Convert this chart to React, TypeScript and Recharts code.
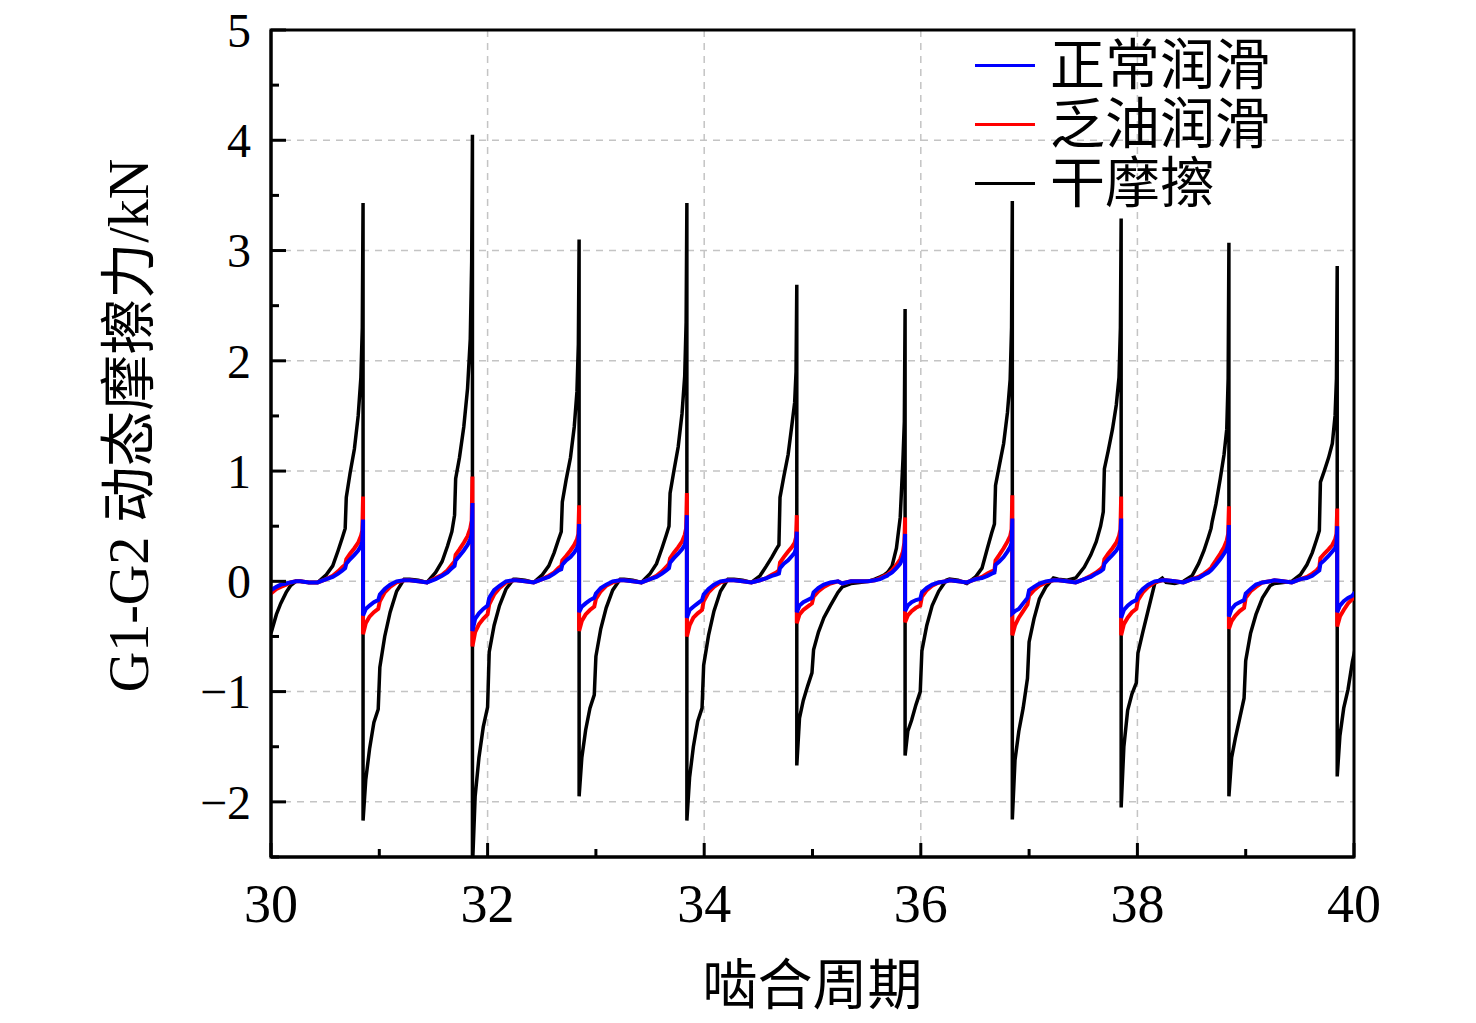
import React from "react";
import {
  LineChart,
  Line,
  XAxis,
  YAxis,
  CartesianGrid,
  Legend,
  ReferenceArea,
} from "recharts";

const SERIF = '"Liberation Serif", "Times New Roman", "Noto Sans CJK SC", serif';

const X_TICKS = [30, 31, 32, 33, 34, 35, 36, 37, 38, 39, 40];
const Y_TICKS = [-2.5, -2, -1.5, -1, -0.5, 0, 0.5, 1, 1.5, 2, 2.5, 3, 3.5, 4, 4.5, 5];
const X_GRID = [32, 34, 36, 38];
const Y_GRID = [-2, -1, 0, 1, 2, 3, 4];

// mesh impact positions (one per cycle)
const SPIKES = [30.85, 31.86, 32.845, 33.84, 34.855, 35.855, 36.845, 37.85, 38.845, 39.845];

// sample offsets around each impact; the two zeros are the peak and the drop
const PHASES = [
  -0.58, -0.5, -0.42, -0.34, -0.28, -0.23, -0.19, -0.165, -0.155, -0.12, -0.08, -0.045, -0.02, -0.007,
  0, 0,
  0.025, 0.06, 0.1, 0.14, 0.155, 0.2, 0.25, 0.31, 0.38,
];

// start of the window, before the first impact
const LEAD_X = [30, 30.05, 30.09, 30.14, 30.18, 30.23];
const LEAD_DRY = [-0.47, -0.3, -0.2, -0.1, -0.04, 0.0];
const LEAD_OIL = [-0.11, -0.07, -0.05, -0.03, -0.01, 0.0];
const LEAD_NORMAL = [-0.08, -0.05, -0.03, -0.02, -0.01, 0.0];

// 干摩擦
const DRY = [
  [0.0, -0.01, -0.01, 0.06, 0.14, 0.28, 0.4, 0.48, 0.76, 0.98, 1.2, 1.5, 1.85, 2.3, 3.43, -2.17, -1.8, -1.52, -1.28, -1.16, -0.78, -0.5, -0.28, -0.09, 0.02],
  [0.02, 0.01, -0.01, 0.08, 0.18, 0.32, 0.45, 0.6, 0.93, 1.12, 1.4, 1.75, 2.2, 2.9, 4.05, -2.6, -1.95, -1.6, -1.32, -1.14, -0.64, -0.4, -0.22, -0.07, 0.02],
  [0.02, 0.01, -0.01, 0.06, 0.14, 0.26, 0.38, 0.45, 0.72, 0.92, 1.12, 1.4, 1.72, 2.15, 3.1, -1.95, -1.6, -1.35, -1.15, -1.03, -0.68, -0.43, -0.24, -0.08, 0.02],
  [0.02, 0.01, -0.01, 0.07, 0.16, 0.3, 0.42, 0.5, 0.8, 1.0, 1.22, 1.52, 1.86, 2.35, 3.43, -2.17, -1.78, -1.5, -1.27, -1.15, -0.76, -0.49, -0.27, -0.09, 0.02],
  [0.02, 0.01, -0.01, 0.05, 0.14, 0.22, 0.29, 0.33, 0.76, 0.95, 1.15, 1.42, 1.62, 1.9, 2.69, -1.67, -1.24, -1.08, -0.95, -0.83, -0.62, -0.46, -0.33, -0.22, -0.1],
  [-0.05, -0.02, -0.01, 0.0, 0.02, 0.04, 0.06, 0.08, 0.09, 0.14, 0.3, 0.58, 1.1, 1.45, 2.47, -1.58, -1.36, -1.26, -1.12, -1.0, -0.63, -0.4, -0.22, -0.09, 0.01],
  [0.02, 0.01, -0.02, 0.04, 0.12, 0.3, 0.44, 0.52, 0.87, 1.05, 1.25, 1.53, 1.83, 2.3, 3.45, -2.16, -1.62, -1.36, -1.15, -0.88, -0.55, -0.34, -0.16, -0.05, 0.03],
  [0.02, 0.01, 0.03, 0.13, 0.24, 0.36, 0.5, 0.63, 1.02, 1.18, 1.38, 1.6, 1.85, 2.3, 3.29, -2.05, -1.5, -1.17, -1.02, -0.92, -0.65, -0.46, -0.26, -0.02, 0.03],
  [-0.01, -0.02, 0.0, 0.05, 0.16, 0.28, 0.4, 0.48, 0.54, 0.7, 0.93, 1.15, 1.38, 1.84, 3.07, -1.95, -1.6, -1.42, -1.24, -1.06, -0.72, -0.47, -0.3, -0.15, -0.04],
  [-0.02, -0.01, 0.0, 0.06, 0.15, 0.26, 0.38, 0.46, 0.9, 1.0, 1.12, 1.25, 1.5, 1.84, 2.86, -1.77, -1.4, -1.15, -0.98, -0.73, -0.66, -0.45, -0.3, -0.15, -0.02],
];

// 乏油润滑
const OIL = [
  [0.0, -0.01, -0.01, 0.02, 0.05, 0.09, 0.13, 0.15, 0.2, 0.25, 0.3, 0.35, 0.41, 0.46, 0.77, -0.48, -0.38, -0.32, -0.28, -0.25, -0.18, -0.1, -0.05, -0.01, 0.01],
  [0.01, 0.0, -0.01, 0.03, 0.06, 0.1, 0.15, 0.18, 0.24, 0.29, 0.35, 0.41, 0.48, 0.55, 0.95, -0.59, -0.46, -0.39, -0.34, -0.3, -0.21, -0.12, -0.06, -0.01, 0.01],
  [0.01, 0.0, -0.01, 0.02, 0.05, 0.08, 0.12, 0.14, 0.19, 0.23, 0.28, 0.33, 0.38, 0.43, 0.69, -0.45, -0.36, -0.3, -0.26, -0.23, -0.16, -0.09, -0.04, -0.01, 0.01],
  [0.01, 0.0, -0.01, 0.02, 0.05, 0.09, 0.13, 0.16, 0.21, 0.26, 0.31, 0.36, 0.42, 0.48, 0.8, -0.5, -0.4, -0.33, -0.29, -0.26, -0.18, -0.1, -0.05, -0.01, 0.01],
  [0.01, 0.0, -0.01, 0.01, 0.03, 0.06, 0.08, 0.1, 0.17, 0.22, 0.27, 0.31, 0.35, 0.4, 0.6, -0.38, -0.3, -0.26, -0.23, -0.2, -0.14, -0.09, -0.05, -0.02, 0.0],
  [-0.02, 0.0, 0.0, 0.0, 0.01, 0.03, 0.05, 0.06, 0.07, 0.1, 0.15, 0.2, 0.27, 0.35, 0.58, -0.37, -0.31, -0.27, -0.24, -0.22, -0.14, -0.08, -0.04, -0.01, 0.0],
  [0.01, 0.0, -0.01, 0.02, 0.04, 0.07, 0.09, 0.1, 0.19, 0.24, 0.3, 0.36, 0.41, 0.47, 0.78, -0.49, -0.4, -0.33, -0.27, -0.21, -0.13, -0.08, -0.04, -0.01, 0.01],
  [0.01, 0.0, -0.01, 0.02, 0.05, 0.08, 0.11, 0.14, 0.2, 0.25, 0.3, 0.35, 0.41, 0.47, 0.77, -0.49, -0.39, -0.33, -0.28, -0.25, -0.17, -0.1, -0.05, -0.01, 0.01],
  [0.01, 0.0, -0.01, 0.02, 0.04, 0.07, 0.1, 0.12, 0.14, 0.19, 0.25, 0.31, 0.37, 0.43, 0.68, -0.43, -0.36, -0.31, -0.27, -0.24, -0.15, -0.09, -0.05, -0.01, 0.0],
  [0.01, 0.0, -0.01, 0.02, 0.04, 0.07, 0.1, 0.13, 0.21, 0.25, 0.29, 0.33, 0.38, 0.43, 0.66, -0.41, -0.32, -0.26, -0.2, -0.16, -0.14, -0.1, -0.05, -0.02, 0.0],
];

// 正常润滑
const NORMAL = [
  [0.0, -0.01, -0.01, 0.02, 0.04, 0.07, 0.1, 0.12, 0.16, 0.2, 0.24, 0.28, 0.32, 0.36, 0.56, -0.31, -0.25, -0.22, -0.19, -0.17, -0.12, -0.07, -0.03, 0.0, 0.01],
  [0.01, 0.0, -0.01, 0.02, 0.05, 0.08, 0.12, 0.14, 0.19, 0.23, 0.28, 0.33, 0.38, 0.43, 0.71, -0.45, -0.34, -0.29, -0.25, -0.22, -0.15, -0.08, -0.04, 0.0, 0.01],
  [0.01, 0.0, -0.01, 0.02, 0.04, 0.07, 0.1, 0.11, 0.15, 0.19, 0.22, 0.26, 0.3, 0.34, 0.52, -0.28, -0.23, -0.2, -0.17, -0.15, -0.11, -0.06, -0.03, 0.0, 0.01],
  [0.01, 0.0, -0.01, 0.02, 0.04, 0.07, 0.1, 0.12, 0.17, 0.21, 0.25, 0.29, 0.33, 0.38, 0.6, -0.33, -0.26, -0.23, -0.2, -0.17, -0.12, -0.07, -0.03, 0.0, 0.01],
  [0.01, 0.0, -0.01, 0.01, 0.03, 0.05, 0.06, 0.07, 0.12, 0.16, 0.19, 0.23, 0.26, 0.3, 0.45, -0.28, -0.22, -0.19, -0.17, -0.15, -0.1, -0.06, -0.03, -0.01, 0.0],
  [-0.02, 0.0, 0.0, 0.0, 0.01, 0.02, 0.04, 0.05, 0.06, 0.08, 0.12, 0.16, 0.22, 0.29, 0.43, -0.27, -0.22, -0.19, -0.17, -0.16, -0.1, -0.06, -0.03, -0.01, 0.0],
  [0.01, 0.0, -0.01, 0.02, 0.03, 0.05, 0.07, 0.08, 0.15, 0.18, 0.22, 0.27, 0.31, 0.35, 0.57, -0.29, -0.27, -0.25, -0.2, -0.15, -0.08, -0.05, -0.02, 0.0, 0.01],
  [0.01, 0.0, -0.01, 0.02, 0.04, 0.07, 0.09, 0.11, 0.16, 0.2, 0.24, 0.28, 0.32, 0.37, 0.57, -0.33, -0.26, -0.22, -0.19, -0.17, -0.12, -0.07, -0.03, 0.0, 0.01],
  [0.01, 0.0, -0.01, 0.02, 0.03, 0.06, 0.08, 0.1, 0.11, 0.15, 0.2, 0.25, 0.29, 0.34, 0.51, -0.32, -0.25, -0.21, -0.19, -0.17, -0.11, -0.07, -0.03, -0.01, 0.0],
  [0.01, 0.0, -0.01, 0.02, 0.03, 0.05, 0.08, 0.1, 0.16, 0.19, 0.23, 0.27, 0.3, 0.34, 0.5, -0.28, -0.22, -0.18, -0.15, -0.13, -0.11, -0.08, -0.04, -0.01, 0.0],
];

const SERIES = [
  { key: "normal", name: "正常润滑", color: "#0000FF", width: 4 },
  { key: "oil", name: "乏油润滑", color: "#FF0000", width: 4 },
  { key: "dry", name: "干摩擦", color: "#000000", width: 3.5 },
];

type Row = { x: number; normal: number; oil: number; dry: number };

function buildRows(): Row[] {
  const rows: Row[] = LEAD_X.map((x, i) => ({
    x,
    normal: LEAD_NORMAL[i],
    oil: LEAD_OIL[i],
    dry: LEAD_DRY[i],
  }));
  SPIKES.forEach((s, c) => {
    PHASES.forEach((p, i) => {
      rows.push({
        x: Math.round((s + p) * 1000) / 1000,
        normal: NORMAL[c][i],
        oil: OIL[c][i],
        dry: DRY[c][i],
      });
    });
  });
  return rows;
}

const data = buildRows();

function XTick(props: any) {
  const { x, y, payload } = props;
  const major = payload.value % 2 === 0;
  return (
    <g>
      <line x1={x} x2={x} y1={y} y2={y - (major ? 14 : 8)} stroke="#000" strokeWidth={3} />
      {major && (
        <text x={x} y={y + 46} dy="0.35em" textAnchor="middle" fontSize={54} fontFamily={SERIF} fill="#000">
          {payload.value}
        </text>
      )}
    </g>
  );
}

function YTick(props: any) {
  const { x, y, payload } = props;
  const v = payload.value;
  const major = Number.isInteger(v);
  return (
    <g>
      <line x1={x} x2={x + (major ? 15 : 8)} y1={y} y2={y} stroke="#000" strokeWidth={3} />
      {major && (
        <text x={x - 20} y={y} dy="0.35em" textAnchor="end" fontSize={48} fontFamily={SERIF} fill="#000">
          {v < 0 ? `\u2212${Math.abs(v)}` : v}
        </text>
      )}
    </g>
  );
}

function YLabel(props: any) {
  const { viewBox } = props;
  const cx = viewBox.x + 120;
  const cy = viewBox.y + viewBox.height / 2 - 18;
  return (
    <text
      x={cx}
      y={cy}
      dy="0.35em"
      textAnchor="middle"
      transform={`rotate(-90, ${cx}, ${cy})`}
      fontSize={56}
      fontFamily={SERIF}
      fill="#000"
    >
      G1-G2 动态摩擦力/kN
    </text>
  );
}

function XLabel(props: any) {
  const { viewBox } = props;
  return (
    <text
      x={viewBox.x + viewBox.width / 2}
      y={viewBox.y + 128}
      dy="0.35em"
      textAnchor="middle"
      fontSize={55}
      fontFamily={SERIF}
      fill="#000"
    >
      啮合周期
    </text>
  );
}

function renderLegend() {
  return (
    <div style={{ fontFamily: SERIF, fontSize: 55, lineHeight: "59px", color: "#000" }}>
      {SERIES.map((s) => (
        <div key={s.key} style={{ display: "flex", alignItems: "center", whiteSpace: "nowrap" }}>
          <div style={{ width: 60, height: 3, background: s.color, marginRight: 15 }} />
          <span>{s.name}</span>
        </div>
      ))}
    </div>
  );
}

export default function App() {
  // pulled up by the body margin so the top tick label stays inside the svg
  return (
    <div style={{ width: 1460, height: 1015, marginTop: -8, fontFamily: SERIF, background: "#fff" }}>
      <LineChart
        width={1460}
        height={1015}
        data={data}
        margin={{ top: 30, right: 114, bottom: 0, left: 0 }}
        style={{ overflow: "visible" }}
      >
        <CartesianGrid
          stroke="#c4c4c4"
          strokeWidth={1.5}
          strokeDasharray="7 6"
          horizontalValues={Y_GRID}
          verticalValues={X_GRID}
        />
        <XAxis
          dataKey="x"
          type="number"
          domain={[30, 40]}
          ticks={X_TICKS}
          allowDataOverflow
          interval={0}
          height={158}
          tickSize={0}
          tickMargin={0}
          tickLine={false}
          tick={<XTick />}
          axisLine={{ stroke: "#000", strokeWidth: 3 }}
          label={{ content: <XLabel /> }}
        />
        <YAxis
          type="number"
          domain={[-2.5, 5]}
          ticks={Y_TICKS}
          allowDataOverflow
          interval={0}
          width={263}
          tickSize={0}
          tickMargin={0}
          tickLine={false}
          tick={<YTick />}
          axisLine={{ stroke: "#000", strokeWidth: 3 }}
          label={{ content: <YLabel /> }}
        />
        <ReferenceArea x1={30} x2={40} y1={-2.5} y2={5} fill="none" stroke="#000" strokeWidth={3} />
        {[...SERIES].reverse().map((s) => (
          <Line
            key={s.key}
            dataKey={s.key}
            name={s.name}
            type="linear"
            stroke={s.color}
            strokeWidth={s.width}
            dot={false}
            activeDot={false}
            isAnimationActive={false}
          />
        ))}
        <Legend
          layout="horizontal"
          verticalAlign="middle"
          align="center"
          content={renderLegend}
          wrapperStyle={{ top: 36, left: 967, width: 420 }}
        />
      </LineChart>
    </div>
  );
}
